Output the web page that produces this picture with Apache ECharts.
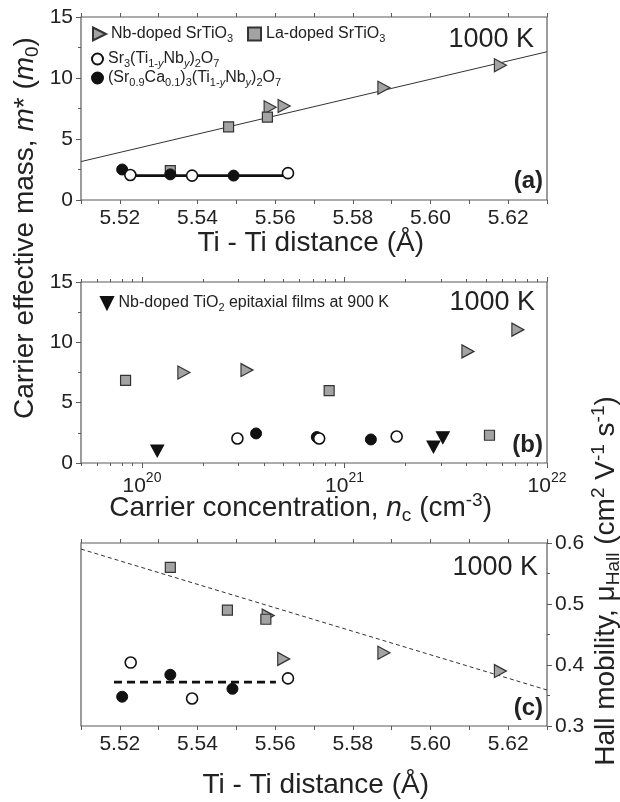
<!DOCTYPE html>
<html>
<head>
<meta charset="utf-8">
<script src="https://cdn.jsdelivr.net/npm/echarts@6/dist/echarts.min.js"></script>
<style>html,body{margin:0;background:#fff}#chart{width:620px;height:802px}</style>
</head>
<body>
<div id="chart"></div>
<script>
// (a) effective mass vs Ti-Ti distance
var nbStoA = [[5.5587, 7.6], [5.5623, 7.7], [5.588, 9.2], [5.618, 11.05]];
var laStoA = [[5.533, 2.4], [5.548, 6.0], [5.558, 6.8]];
var sr3A = [[5.5227, 2.05], [5.5386, 2.0], [5.5633, 2.2]];
var srCaA = [[5.5206, 2.5], [5.533, 2.1], [5.5493, 2.0]];
var fitA = [[5.51, 3.15], [5.63, 12.15]];
var flatA = [[5.5227, 2.0], [5.5633, 2.0]];

// (b) effective mass vs carrier concentration (cm-3)
var nbStoB = [[1.61e20, 7.5], [3.3e20, 7.7], [4.07e21, 9.25], [7.18e21, 11.05]];
var laStoB = [[8.3e19, 6.85], [8.4e20, 6.0], [5.2e21, 2.3]];
var srCaB = [[3.66e20, 2.45], [7.3e20, 2.15], [1.35e21, 1.95]];
var sr3B = [[2.96e20, 2.03], [7.5e20, 2.03], [1.81e21, 2.2]];
var tio2B = [[1.19e20, 1.0], [2.75e21, 1.33], [3.06e21, 2.1]];

// (c) Hall mobility vs Ti-Ti distance
var nbStoC = [[5.5582, 0.481], [5.5622, 0.41], [5.588, 0.42], [5.618, 0.39]];
var laStoC = [[5.533, 0.56], [5.5477, 0.49], [5.5576, 0.475]];
var sr3C = [[5.5228, 0.404], [5.5386, 0.345], [5.5633, 0.378]];
var srCaC = [[5.5206, 0.348], [5.533, 0.384], [5.549, 0.361]];
var fitC = [[5.51, 0.59], [5.63, 0.359]];
var flatC = [[5.5185, 0.372], [5.5602, 0.372]];

// axis ticks
var concDecades = [20, 21, 22];
var concMin = 5e19, concMax = 1e22;

var NB = 'Nb-doped SrTiO3', LA = 'La-doped SrTiO3', SR3 = 'Sr3(Ti1-yNby)2O7',
    SRCA = '(Sr0.9Ca0.1)3(Ti1-yNby)2O7', TIO2 = 'Nb-doped TiO2 epitaxial films at 900 K';
var legendText = {};
legendText[NB] = '{t|Nb-doped SrTiO}{s|3}';
legendText[LA] = '{t|La-doped SrTiO}{s|3}';
legendText[SR3] = '{t|Sr}{s|3}{t|(Ti}{s|1-}{si|y}{t|Nb}{si|y}{t|)}{s|2}{t|O}{s|7}';
legendText[SRCA] = '{t|(Sr}{s|0.9}{t|Ca}{s|0.1}{t|)}{s|3}{t|(Ti}{s|1-}{si|y}{t|Nb}{si|y}{t|)}{s|2}{t|O}{s|7}';
legendText[TIO2] = '{t|Nb-doped TiO}{s|2}{t| epitaxial films at 900 K}';

var FONT = '"Liberation Sans", Arial, sans-serif';
var INK = '#222', AX = '#5a5a5a', GRAY = '#a3a3a3', EDGE = '#333';
var triR = 'path://M0,0L10,5L0,10Z';
var triD = 'path://M0,0L10,0L5,10Z';

function lg(arr) {
    return arr.map(function (p) { return [Math.log10(p[0]), p[1]]; });
}

var minorConc = [];
for (var n = 19; n < 22; n++) {
    for (var k = 2; k <= 9; k++) {
        var v = Math.log10(k * Math.pow(10, n));
        if (v >= Math.log10(concMin) - 1e-9) minorConc.push(v);
    }
}

var legendRich = {
    t: {fontSize: 16, lineHeight: 20, color: INK, fontFamily: FONT},
    s: {fontSize: 11, lineHeight: 11, verticalAlign: 'bottom', color: INK, fontFamily: FONT},
    si: {fontSize: 11, lineHeight: 11, verticalAlign: 'bottom', fontStyle: 'italic', color: INK, fontFamily: FONT}
};

function distAxis(grid, pos, labels) {
    return {
        type: 'value', gridIndex: grid, position: pos, min: 5.51, max: 5.63, interval: 0.01,
        axisLine: {show: false},
        axisTick: {show: true, length: 4, lineStyle: {color: AX, width: 1}},
        axisLabel: {
            show: labels, margin: 8, fontSize: 21, color: INK, fontFamily: FONT,
            formatter: function (v) {
                return Math.round(v * 100) % 2 === 0 ? v.toFixed(2) : '';
            }
        },
        splitLine: {show: false}
    };
}

function concAxis(pos, major, labels) {
    return {
        type: 'value', gridIndex: 1, position: pos,
        min: Math.log10(concMin), max: Math.log10(concMax),
        axisLine: {show: false},
        axisTick: {show: true, length: major ? 5 : 3, customValues: major ? concDecades : minorConc,
            lineStyle: {color: AX, width: 1}},
        axisLabel: {
            show: labels, margin: 8, customValues: concDecades,
            formatter: function (v) { return '{b|10}{s|' + Math.round(v) + '}'; },
            rich: {
                b: {fontSize: 21, lineHeight: 26, verticalAlign: 'bottom', color: INK, fontFamily: FONT},
                s: {fontSize: 14, lineHeight: 16, verticalAlign: 'top', color: INK, fontFamily: FONT}
            }
        },
        splitLine: {show: false}
    };
}

function massAxis(grid) {
    return {
        type: 'value', gridIndex: grid, position: 'left', min: 0, max: 15, interval: 5,
        axisLine: {show: false},
        axisTick: {show: true, length: 5, lineStyle: {color: AX}},
        minorTick: {show: true, splitNumber: 2, length: 3, lineStyle: {color: AX}},
        axisLabel: {margin: 8, fontSize: 21, color: INK, fontFamily: FONT},
        splitLine: {show: false}, minorSplitLine: {show: false}
    };
}

function sym(name, x, y, data, kind) {
    var s = {name: name, type: 'scatter', xAxisIndex: x, yAxisIndex: y, data: data, z: 3};
    if (kind === 'tri') {
        s.symbol = triR; s.symbolSize = [12, 13];
        s.itemStyle = {color: GRAY, borderColor: EDGE, borderWidth: 1.2};
    } else if (kind === 'sq') {
        s.symbol = 'rect'; s.symbolSize = 10;
        s.itemStyle = {color: GRAY, borderColor: EDGE, borderWidth: 1.2};
    } else if (kind === 'open') {
        s.symbol = 'circle'; s.symbolSize = 11;
        s.itemStyle = {color: '#fff', borderColor: '#111', borderWidth: 1.6};
    } else if (kind === 'fill') {
        s.symbol = 'circle'; s.symbolSize = 11;
        s.itemStyle = {color: '#111', borderColor: '#111', borderWidth: 1};
    } else {
        s.symbol = triD; s.symbolSize = [13, 12];
        s.itemStyle = {color: '#111', borderColor: '#111', borderWidth: 1};
    }
    s.itemStyle.opacity = 1;
    return s;
}

function line(x, y, data, width, dash) {
    return {
        type: 'line', xAxisIndex: x, yAxisIndex: y, data: data, symbol: 'none', silent: true, z: 2,
        lineStyle: {color: width > 2 ? '#111' : '#333', width: width, type: dash || 'solid'}
    };
}

function label(text, x, y, size, bold, rot) {
    return {
        type: 'text', x: x, y: y, rotation: rot || 0, silent: true,
        style: {
            text: text, fill: INK, align: rot ? 'center' : 'right', verticalAlign: 'middle',
            font: (bold ? 'bold ' : '') + size + 'px ' + FONT,
            rich: {
                t: {fontSize: size, lineHeight: 34, fontFamily: FONT},
                i: {fontSize: size, lineHeight: 34, fontStyle: 'italic', fontFamily: FONT},
                sub: {fontSize: 19, lineHeight: 19, verticalAlign: 'bottom', fontFamily: FONT},
                sup: {fontSize: 19, lineHeight: 19, verticalAlign: 'top', fontFamily: FONT}
            }
        }
    };
}

var chart = echarts.init(document.getElementById('chart'));
var option = {
    animation: false,
    backgroundColor: '#fff',
    grid: [
        {left: 81, top: 17, width: 466, height: 183, show: true, borderColor: AX, borderWidth: 1.2},
        {left: 81, top: 282, width: 466, height: 181, show: true, borderColor: AX, borderWidth: 1.2},
        {left: 81, top: 543, width: 466, height: 183, show: true, borderColor: AX, borderWidth: 1.2}
    ],
    xAxis: [
        distAxis(0, 'bottom', true), distAxis(0, 'top', false),
        concAxis('bottom', true, true), concAxis('bottom', false, false),
        concAxis('top', true, false), concAxis('top', false, false),
        distAxis(2, 'bottom', true), distAxis(2, 'top', false)
    ],
    yAxis: [
        massAxis(0), massAxis(1),
        {
            type: 'value', gridIndex: 2, position: 'right', min: 0.3, max: 0.6, interval: 0.1,
            axisLine: {show: false},
            axisTick: {show: true, length: 5, lineStyle: {color: AX}},
            minorTick: {show: true, splitNumber: 2, length: 3, lineStyle: {color: AX}},
            axisLabel: {margin: 8, fontSize: 21, color: INK, fontFamily: FONT,
                formatter: function (v) { return v.toFixed(1); }},
            splitLine: {show: false}, minorSplitLine: {show: false}
        }
    ],
    legend: [
        {data: [NB, LA], left: 92, top: 26, padding: 0, itemWidth: 13, itemHeight: 13, itemGap: 14,
            selectedMode: false, formatter: function (n) { return legendText[n]; },
            textStyle: {fontSize: 16, color: INK, fontFamily: FONT, rich: legendRich}},
        {data: [SR3], left: 91, top: 51, padding: 0, itemWidth: 11, itemHeight: 11,
            selectedMode: false, formatter: function (n) { return legendText[n]; },
            textStyle: {fontSize: 16, color: INK, fontFamily: FONT, rich: legendRich}},
        {data: [SRCA], left: 91, top: 70, padding: 0, itemWidth: 11, itemHeight: 11,
            selectedMode: false, formatter: function (n) { return legendText[n]; },
            textStyle: {fontSize: 16, color: INK, fontFamily: FONT, rich: legendRich}},
        {data: [TIO2], left: 100, top: 295, padding: 0, itemWidth: 13, itemHeight: 12,
            selectedMode: false, formatter: function (n) { return legendText[n]; },
            textStyle: {fontSize: 16, color: INK, fontFamily: FONT, rich: legendRich}}
    ],
    series: [
        line(0, 0, fitA, 1),
        line(0, 0, flatA, 2.6),
        sym(NB, 0, 0, nbStoA, 'tri'),
        sym(LA, 0, 0, laStoA, 'sq'),
        sym(SRCA, 0, 0, srCaA, 'fill'),
        sym(SR3, 0, 0, sr3A, 'open'),

        sym(NB, 2, 1, lg(nbStoB), 'tri'),
        sym(LA, 2, 1, lg(laStoB), 'sq'),
        sym(SRCA, 2, 1, lg(srCaB), 'fill'),
        sym(SR3, 2, 1, lg(sr3B), 'open'),
        sym(TIO2, 2, 1, lg(tio2B), 'down'),

        line(6, 2, fitC, 1, [4, 3]),
        line(6, 2, flatC, 2.6, [8, 5]),
        sym(NB, 6, 2, nbStoC, 'tri'),
        sym(LA, 6, 2, laStoC, 'sq'),
        sym(SRCA, 6, 2, srCaC, 'fill'),
        sym(SR3, 6, 2, sr3C, 'open')
    ],
    graphic: [
        label('{t|Carrier effective mass, }{i|m}{t|* (}{i|m}{sub|0}{t|)}', 25, 228, 28, false, Math.PI / 2),
        label('{t|Hall mobility, μ}{sub|Hall}{t| (cm}{sup|2}{t| V}{sup|-1}{t| s}{sup|-1}{t|)}', 606, 581, 28, false, Math.PI / 2),
        label('{t|Ti - Ti distance (Å)}', 424, 243, 28, false),
        label('{t|Carrier concentration, }{i|n}{sub|c}{t| (cm}{sup|-3}{t|)}', 492, 508, 28, false),
        label('{t|Ti - Ti distance (Å)}', 429, 785, 28, false),
        label('1000 K', 534, 40, 27, false),
        label('1000 K', 535, 303, 27, false),
        label('1000 K', 538, 568, 27, false),
        label('(a)', 543, 181, 24, true),
        label('(b)', 543, 445, 24, true),
        label('(c)', 543, 708, 24, true)
    ]
};
chart.setOption(option);
</script>
</body>
</html>
